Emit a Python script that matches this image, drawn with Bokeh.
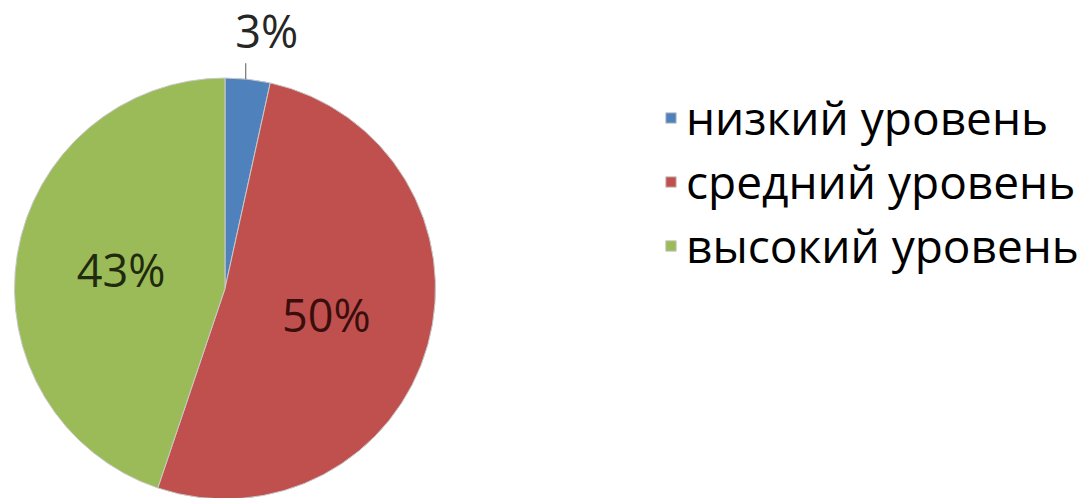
import numpy as np
from bokeh.plotting import figure
from bokeh.models import Range1d, ColumnDataSource, Legend, LegendItem
from bokeh.embed import file_html
from bokeh.resources import INLINE
from bokeh.core.properties import value

categories = ["низкий уровень", "средний уровень", "высокий уровень"]
counts = [1, 15, 13]
pct_labels = ["3%", "50%", "43%"]
colors = ["#4F81BD", "#C0504D", "#9BBB59"]
label_colors = ["#262626", "#3A0E0D", "#1F2A0E"]

W, H = 1083, 498
FONT = "Open Sans"

p = figure(width=W, height=H, output_backend="svg", toolbar_location=None,
           x_range=Range1d(0, W), y_range=Range1d(0, H),
           x_axis_type=None, y_axis_type=None, min_border=0)
p.grid.visible = False
p.outline_line_color = None
p.background_fill_color = "white"
p.border_fill_color = "white"

cx, cy, R = 224.5, H - 288.0, 210.5

vals = np.array(counts, dtype=float)
frac = vals / vals.sum()
cum_end = np.cumsum(frac)
cum_start = cum_end - frac
start_angle = np.pi / 2 - 2 * np.pi * cum_end
end_angle = np.pi / 2 - 2 * np.pi * cum_start
mid = np.pi / 2 - 2 * np.pi * (cum_start + cum_end) / 2

src = ColumnDataSource(dict(x=[cx] * 3, y=[cy] * 3, start=start_angle, end=end_angle,
                            color=colors, cat=categories))
wr = p.wedge(x="x", y="y", radius=R, start_angle="start", end_angle="end",
             fill_color="color", line_color="#C8C8C8", line_width=1, source=src)

# labels
lx, ly = [], []
for i in range(3):
    if i == 0:
        ex = cx + R * np.cos(mid[i])
        ey = cy + R * np.sin(mid[i])
        p.segment(x0=[ex - 2], y0=[ey], x1=[ex - 2], y1=[ey + 16], line_color="#595959", line_width=1)
        lx.append(ex + 19)
        ly.append(ey + 49)
    else:
        lx.append(cx + 0.5 * R * np.cos(mid[i]))
        ly.append(cy + 0.5 * R * np.sin(mid[i]) + 2)
lsrc = ColumnDataSource(dict(x=lx, y=ly, t=pct_labels, c=label_colors))
p.text(x="x", y="y", text="t", text_color="c", source=lsrc, text_align="center",
       text_baseline="middle", text_font=value(FONT), text_font_size="45px")

legend = Legend(items=[LegendItem(label=categories[i], renderers=[wr], index=i) for i in range(3)],
                location=(664, 222), orientation="vertical",
                label_text_font=FONT, label_text_font_size="46px", label_text_color="#000000",
                glyph_width=13, glyph_height=13, label_standoff=9, spacing=2,
                padding=0, margin=0, border_line_color=None, background_fill_alpha=0)
p.add_layout(legend, "center")

open("out.html", "w").write(file_html(p, INLINE))
